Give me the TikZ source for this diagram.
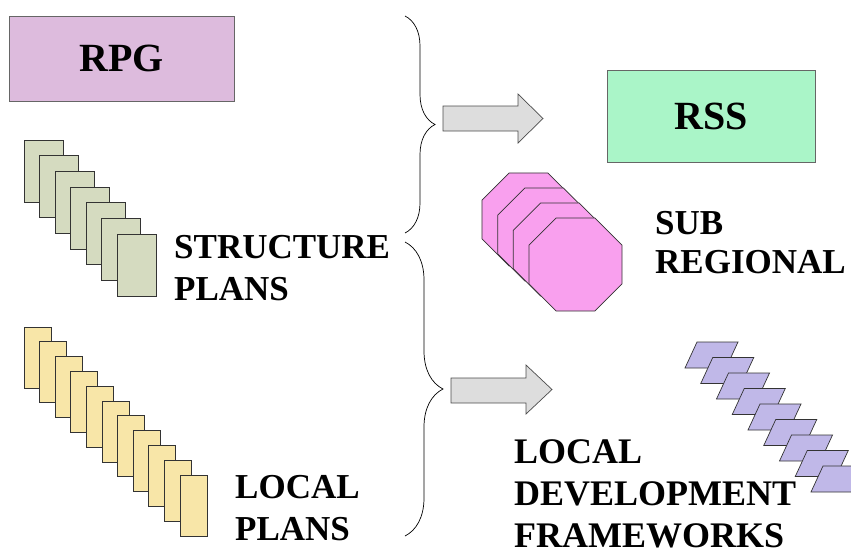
\documentclass[tikz,border=0pt]{standalone}
\usepackage{fontspec}
\setmainfont{Liberation Serif}
\usetikzlibrary{shapes.geometric,decorations.pathreplacing}
\definecolor{rpgfill}{RGB}{221,187,221}
\definecolor{rssfill}{RGB}{170,245,200}
\definecolor{spfill}{RGB}{213,219,192}
\definecolor{lpfill}{RGB}{248,230,168}
\definecolor{subfill}{RGB}{249,160,238}
\definecolor{ldffill}{RGB}{192,184,232}
\definecolor{arrowgray}{RGB}{221,221,221}

\tikzset{
  titlebox/.style={draw=black!60, line width=0.8pt, inner sep=0pt, font=\fontsize{40}{48}\selectfont\bfseries},
  sheet/.style={draw=black!80, line width=0.7pt, inner sep=0pt},
  lbl/.style={anchor=base west, align=left, inner sep=0pt, font=\fontsize{35}{42}\selectfont\bfseries},
  brc/.style={decorate, decoration={brace, amplitude=#1}, line width=0.7pt},
  blockarrow/.style={draw=black!70, fill=arrowgray, line width=0.7pt}
}

\begin{document}
\begin{tikzpicture}[x=1pt, y=-1pt]
    \useasboundingbox (0,0) rectangle (851,552);

    % title boxes
    \node[titlebox, fill=rpgfill, minimum width=225pt, minimum height=85pt] (rpg) at (121.5,58.5) {RPG};
    \node[titlebox, fill=rssfill, minimum width=208pt, minimum height=92pt] (rss) at (711,116) {RSS};

    % stacks of plans
    \foreach \i in {0,...,6}
        \node[sheet, fill=spfill, minimum width=39pt, minimum height=62pt] (sp\i) at ({43.5+15.5*\i},{171+15.67*\i}) {};
    \foreach \i in {0,...,10}
        \node[sheet, fill=lpfill, minimum width=27pt, minimum height=61pt] (lp\i) at ({37.5+15.6*\i},{357.5+14.8*\i}) {};
    \foreach \i in {0,...,3}
        \node[sheet, regular polygon, regular polygon sides=8, minimum size=100.7pt, fill=subfill] (sub\i) at ({528.5+15.67*\i},{219.5+15*\i}) {};
    \foreach \i in {0,...,8}
        \draw[sheet, fill=ldffill] ({697+15.75*\i},{342+15.5*\i}) -- ++(41,0) -- ++(-12,26) -- ++(-41,0) -- cycle;

    % braces
    \coordinate (b1top) at (405,16);
    \coordinate (b1bot) at (405,233);
    \coordinate (b2top) at (405,242);
    \coordinate (b2bot) at (405,536);
    \draw[brc=30] (b1top) -- (b1bot);
    \draw[brc=38] (b2top) -- (b2bot);

    % block arrows
    \draw[blockarrow] (443,106) -- (518,106) -- (518,94) -- (543,118.5) -- (518,143) -- (518,131) -- (443,131) -- cycle;
    \draw[blockarrow] (451,378) -- (526,378) -- (526,365) -- (552,389.5) -- (526,414) -- (526,403) -- (451,403) -- cycle;

    % labels (anchored at the baseline of the last line)
    \node[lbl] (sptext) at (174,300) {STRUCTURE\\PLANS};
    \node[lbl, font=\fontsize{35}{39}\selectfont\bfseries] (subtext) at (655,273) {SUB\\REGIONAL};
    \node[lbl] (lptext) at (235,540) {LOCAL\\PLANS};
    \node[lbl, font=\fontsize{36}{42}\selectfont\bfseries] (ldftext) at (514,547) {LOCAL\\DEVELOPMENT\\FRAMEWORKS};
\end{tikzpicture}
\end{document}
